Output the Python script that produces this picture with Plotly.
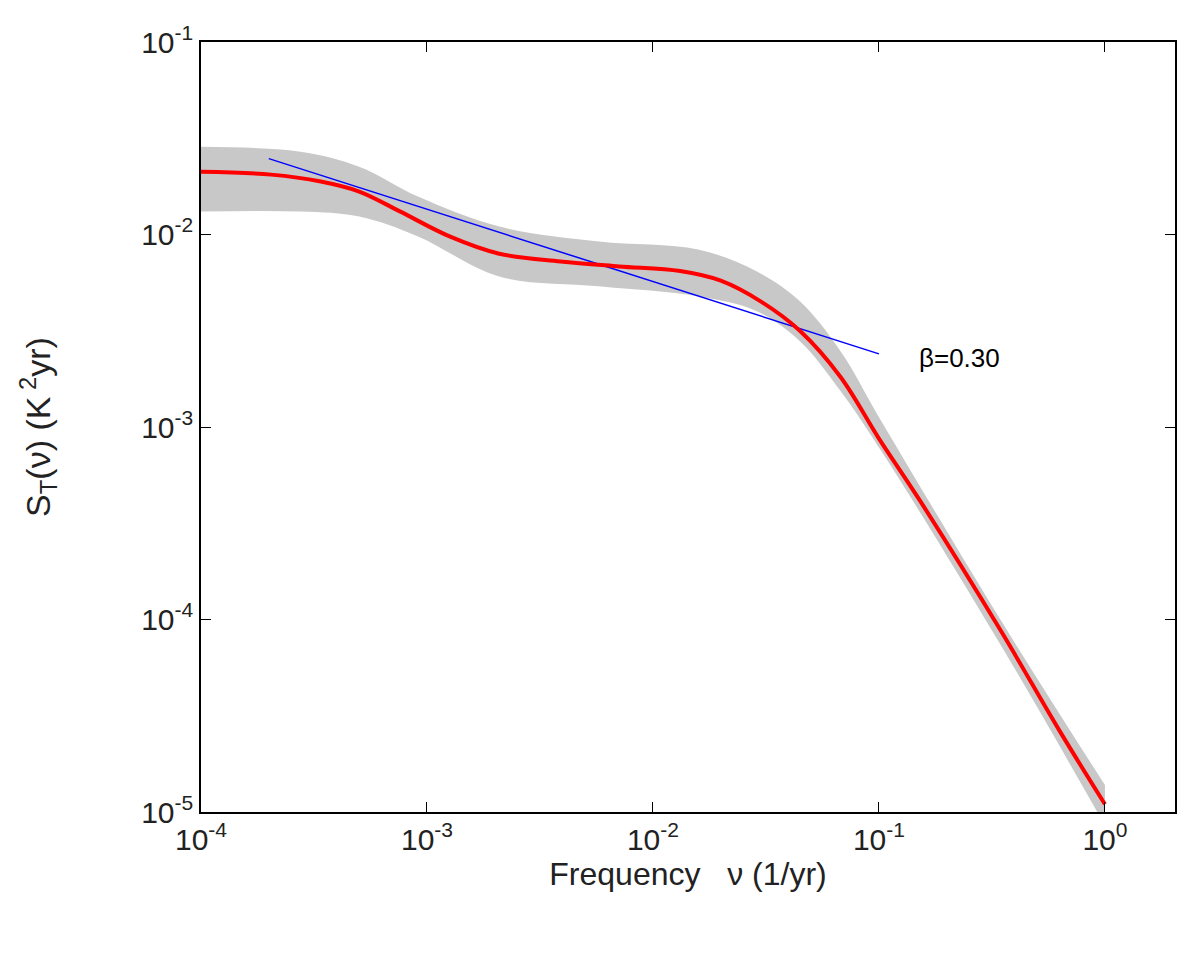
import numpy as np
import plotly.graph_objects as go

# log10 values
curve_logf = [-4, -3.69, -3.47, -3.30, -3.12, -2.90, -2.68, -2.41, -2.15, -1.88,
              -1.70, -1.52, -1.35, -1.17, -1.0, -0.82, -0.46, -0.20, 0.0]
curve_logs = [-1.674, -1.689, -1.725, -1.777, -1.88, -2.01, -2.10, -2.14, -2.166, -2.19,
              -2.24, -2.35, -2.50, -2.74, -3.06, -3.38, -4.06, -4.58, -4.96]

band_logf = [-4, -3.56, -3.30, -3.04, -2.68, -2.24, -1.80, -1.54, -1.35, -1.17, -0.99, -0.46, 0.0]
band_upper = [-1.544, -1.570, -1.648, -1.803, -1.959, -2.036, -2.078, -2.192, -2.347,
              -2.606, -2.969, -4.005, -4.86]
band_lower = [-1.881, -1.881, -1.907, -2.010, -2.218, -2.269, -2.321, -2.399, -2.554,
              -2.813, -3.124, -4.135, -5.07]

fit_logf = [-3.70, -1.0]
fit_logs = [-1.606, -2.62]

x_ticks = [-4, -3, -2, -1, 0]
y_ticks = [-5, -4, -3, -2, -1]

p = lambda a: np.power(10.0, np.array(a))

fig = go.Figure()
fig.add_trace(go.Scatter(x=p(band_logf), y=p(band_upper), mode="lines",
                         line=dict(color="#c8c8c8", width=0, shape="spline"), showlegend=False))
fig.add_trace(go.Scatter(x=p(band_logf), y=p(band_lower), mode="lines", fill="tonexty",
                         fillcolor="#c8c8c8", line=dict(color="#c8c8c8", width=0, shape="spline"),
                         showlegend=False))
fig.add_trace(go.Scatter(x=p(fit_logf), y=p(fit_logs), mode="lines",
                         line=dict(color="blue", width=1.5), showlegend=False))
fig.add_trace(go.Scatter(x=p(curve_logf), y=p(curve_logs), mode="lines",
                         line=dict(color="red", width=4, shape="spline"), showlegend=False))

fig.add_annotation(x=-0.83, y=-2.64, text="β=0.30", showarrow=False, xanchor="left",
                   font=dict(size=26, color="black"))

axis_common = dict(type="log", showgrid=False, zeroline=False, showline=True, mirror="ticks",
                   linecolor="black", linewidth=1.5, ticks="inside", ticklen=10,
                   tickcolor="black", tickfont=dict(size=30, color="#222"), automargin=False)
fig.update_xaxes(range=[-4, 0.31], tickvals=p(x_ticks),
                 ticktext=[f"10<sup>{t}</sup>" for t in x_ticks],
                 title=dict(text="Frequency   ν (1/yr)", font=dict(size=32, color="#222"), standoff=8),
                 **axis_common)
fig.update_yaxes(range=[-5, -1], tickvals=p(y_ticks),
                 ticktext=[f"10<sup>{t}</sup>" for t in y_ticks],
                 title=dict(text="S<sub>T</sub>(ν) (K<sup> 2</sup>yr)", font=dict(size=34, color="#222"),
                            standoff=80),
                 **axis_common)
fig.update_layout(width=1200, height=956, plot_bgcolor="white", paper_bgcolor="white",
                  font=dict(family="Liberation Sans, Arial"),
                  margin=dict(l=193, r=33, t=34, b=152))
fig.write_html("out.html")
